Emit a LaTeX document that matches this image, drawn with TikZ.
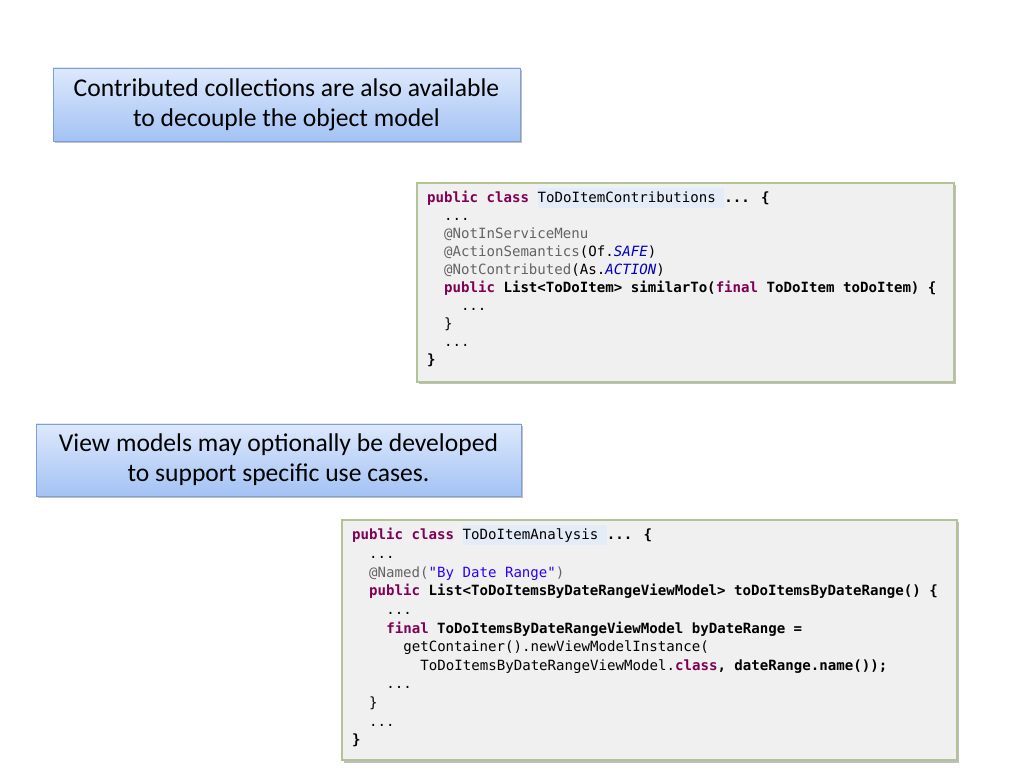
\documentclass[tikz,border=0pt]{standalone}
\usepackage{fontspec}
\setmainfont{Carlito}
\newfontfamily\codefont{DejaVu Sans Mono}
\usetikzlibrary{shadows}
\definecolor{kwc}{HTML}{7F0055}
\definecolor{anc}{HTML}{646464}
\definecolor{enc}{HTML}{0000C0}
\definecolor{stc}{HTML}{2A00FF}
\definecolor{hlc}{HTML}{E4ECF7}
\definecolor{bluetop}{HTML}{DDE9FC}
\definecolor{bluebot}{HTML}{A3C2F4}
\definecolor{blueline}{HTML}{7E9ED6}
\definecolor{codefill}{HTML}{F0F0F0}
\definecolor{codeline}{HTML}{B3C398}
\newcommand\kw[1]{{\bfseries\color{kwc}#1}}
\newcommand\an[1]{{\color{anc}#1}}
\newcommand\en[1]{{\itshape\color{enc}#1}}
\newcommand\st[1]{{\color{stc}#1}}
\newcommand\bd[1]{{\bfseries #1}}
\newcommand\hlt[1]{{\setlength{\fboxsep}{0pt}\colorbox{hlc}{\rule[-5.5pt]{0pt}{20pt}#1}}}
\tikzset{
  calloutbox/.style={draw=blueline, line width=0.8pt, top color=bluetop, bottom color=bluebot,
    align=center, inner sep=0pt, font=\fontsize{25.6}{30}\selectfont,
    drop shadow={shadow xshift=1.5pt, shadow yshift=-2.5pt, fill=black, opacity=0.25}},
  codebox/.style={draw=codeline, line width=1.2pt, fill=codefill, inner sep=0pt,
    drop shadow={shadow xshift=1.5pt, shadow yshift=-2.5pt, fill=black, opacity=0.25}},
  codeline/.style={anchor=base west, inner sep=0pt, font=\codefont\fontsize{14.1}{18}\selectfont}
}
\begin{document}
\begin{tikzpicture}[x=1pt,y=1pt]
\useasboundingbox[fill=white] (0,0) rectangle (1024,768);

% callout boxes
\node[calloutbox, minimum width=467pt, minimum height=73pt] (call1) at (286.5,663.5)
  {Contributed collections are also available\\to decouple the object model};
\node[calloutbox, minimum width=485pt, minimum height=72pt] (call2) at (278.5,308)
  {View models may optionally be developed\\to support specific use cases.};

% code box 1
\node[codebox, minimum width=537pt, minimum height=199pt] (cb1) at (685.5,485.5) {};
\node[codeline] (a1) at (427,565.5) {\kw{public class} \hlt{ToDoItemContributions\ }\bd{... \{}};
\node[codeline] (a2) at (443.9,547.5) {...};
\node[codeline] (a3) at (443.9,529.5) {\an{@NotInServiceMenu}};
\node[codeline] (a4) at (443.9,511.5) {\an{@ActionSemantics}(Of.\en{SAFE})};
\node[codeline] (a5) at (443.9,493.5) {\an{@NotContributed}(As.\en{ACTION})};
\node[codeline] (a6) at (443.9,475.5) {\kw{public} \bd{List<ToDoItem> similarTo(}\kw{final} \bd{ToDoItem toDoItem) \{}};
\node[codeline] (a7) at (460.8,457.5) {...};
\node[codeline] (a8) at (443.9,439.5) {\}};
\node[codeline] (a9) at (443.9,421.5) {...};
\node[codeline] (a10) at (427,403.5) {\bd{\}}};

% code box 2
\node[codebox, minimum width=615pt, minimum height=240pt] (cb2) at (649.5,128) {};
\node[codeline] (b1) at (352,228) {\kw{public class} \hlt{ToDoItemAnalysis\ }\bd{... \{}};
\node[codeline] (b2) at (369,209.4) {...};
\node[codeline] (b3) at (369,190.8) {\an{@Named(}\st{"By Date Range"}\an{)}};
\node[codeline] (b4) at (369,172.2) {\kw{public} \bd{List<ToDoItemsByDateRangeViewModel> toDoItemsByDateRange() \{}};
\node[codeline] (b5) at (386.1,153.6) {...};
\node[codeline] (b6) at (386.1,135) {\kw{final} \bd{ToDoItemsByDateRangeViewModel byDateRange =}};
\node[codeline] (b7) at (403.1,116.4) {getContainer().newViewModelInstance(};
\node[codeline] (b8) at (420.2,97.8) {ToDoItemsByDateRangeViewModel.\kw{class}\bd{, dateRange.name());}};
\node[codeline] (b9) at (386.1,79.2) {...};
\node[codeline] (b10) at (369,60.6) {\}};
\node[codeline] (b11) at (369,42) {...};
\node[codeline] (b12) at (352,23.4) {\bd{\}}};
\end{tikzpicture}
\end{document}
